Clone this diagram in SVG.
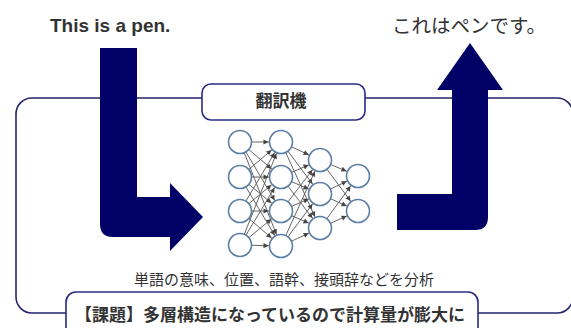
<svg xmlns="http://www.w3.org/2000/svg" width="571" height="328" viewBox="0 0 571 328">
<style>
.frame{fill:none;stroke:#23236f;stroke-width:1.6}
.box{fill:#fff;stroke:#2a2a84;stroke-width:1.6}
.arrow{fill:#000066}
.jp{font-family:"Noto Sans CJK JP","Noto Sans",sans-serif;fill:#333}
.b{font-weight:bold}
.edge{stroke:#555;stroke-width:0.9;fill:none;marker-end:url(#ah)}
.neuron{fill:#fff;stroke:#5a7ea6;stroke-width:1.6}
</style>
<defs>
<marker id="ah" markerUnits="userSpaceOnUse" viewBox="-20 -10 40 20" markerWidth="40" markerHeight="20" refX="12.5" refY="0" orient="auto" overflow="visible">
<path d="M0,0 L-5,-2.6 L-5,2.6 Z" fill="#444"/>
</marker>
</defs>

<g id="frame-connector">
<rect class="frame" x="16" y="98" width="557" height="215" rx="16"/>
</g>

<g id="title-box">
<rect class="box" x="202" y="84" width="163" height="36" rx="9"/>
<text class="jp b" x="281" y="107" font-size="17" text-anchor="middle">翻訳機</text>
</g>

<g id="input-arrow">
<path class="arrow" d="M100,48 H137 V197 H170 V183 L203,217 L170,251 V237 H113 Q100,237 100,224 Z"/>
</g>

<g id="output-arrow">
<path class="arrow" d="M397,194 H452 V90 H437 L470,43 L503,90 H488 V217 Q488,230 475,230 H397 Z"/>
</g>

<g id="input-text">
<text x="50" y="32" font-family="'Liberation Sans',Arial,sans-serif" font-weight="bold" font-size="19" fill="#333">This is a pen.</text>
</g>

<g id="output-text">
<text class="jp" x="392" y="33" font-size="19.5">これはペンです。</text>
</g>

<g id="network-connectors">
<line class="edge" x1="240" y1="142" x2="281" y2="142"/>
<line class="edge" x1="240" y1="142" x2="281" y2="177"/>
<line class="edge" x1="240" y1="142" x2="281" y2="211"/>
<line class="edge" x1="240" y1="142" x2="281" y2="246"/>
<line class="edge" x1="240" y1="177" x2="281" y2="142"/>
<line class="edge" x1="240" y1="177" x2="281" y2="177"/>
<line class="edge" x1="240" y1="177" x2="281" y2="211"/>
<line class="edge" x1="240" y1="177" x2="281" y2="246"/>
<line class="edge" x1="240" y1="211" x2="281" y2="142"/>
<line class="edge" x1="240" y1="211" x2="281" y2="177"/>
<line class="edge" x1="240" y1="211" x2="281" y2="211"/>
<line class="edge" x1="240" y1="211" x2="281" y2="246"/>
<line class="edge" x1="240" y1="245" x2="281" y2="142"/>
<line class="edge" x1="240" y1="245" x2="281" y2="177"/>
<line class="edge" x1="240" y1="245" x2="281" y2="211"/>
<line class="edge" x1="240" y1="245" x2="281" y2="246"/>
<line class="edge" x1="281" y1="142" x2="320" y2="160"/>
<line class="edge" x1="281" y1="142" x2="320" y2="194"/>
<line class="edge" x1="281" y1="142" x2="320" y2="228"/>
<line class="edge" x1="281" y1="177" x2="320" y2="160"/>
<line class="edge" x1="281" y1="177" x2="320" y2="194"/>
<line class="edge" x1="281" y1="177" x2="320" y2="228"/>
<line class="edge" x1="281" y1="211" x2="320" y2="160"/>
<line class="edge" x1="281" y1="211" x2="320" y2="194"/>
<line class="edge" x1="281" y1="211" x2="320" y2="228"/>
<line class="edge" x1="281" y1="246" x2="320" y2="160"/>
<line class="edge" x1="281" y1="246" x2="320" y2="194"/>
<line class="edge" x1="281" y1="246" x2="320" y2="228"/>
<line class="edge" x1="320" y1="160" x2="358" y2="176"/>
<line class="edge" x1="320" y1="160" x2="358" y2="211"/>
<line class="edge" x1="320" y1="194" x2="358" y2="176"/>
<line class="edge" x1="320" y1="194" x2="358" y2="211"/>
<line class="edge" x1="320" y1="228" x2="358" y2="176"/>
<line class="edge" x1="320" y1="228" x2="358" y2="211"/>
</g>

<g id="network-nodes">
<circle class="neuron" cx="240" cy="142" r="11.5"/>
<circle class="neuron" cx="240" cy="177" r="11.5"/>
<circle class="neuron" cx="240" cy="211" r="11.5"/>
<circle class="neuron" cx="240" cy="245" r="11.5"/>
<circle class="neuron" cx="281" cy="142" r="11.5"/>
<circle class="neuron" cx="281" cy="177" r="11.5"/>
<circle class="neuron" cx="281" cy="211" r="11.5"/>
<circle class="neuron" cx="281" cy="246" r="11.5"/>
<circle class="neuron" cx="320" cy="160" r="11.5"/>
<circle class="neuron" cx="320" cy="194" r="11.5"/>
<circle class="neuron" cx="320" cy="228" r="11.5"/>
<circle class="neuron" cx="358" cy="176" r="11.5"/>
<circle class="neuron" cx="358" cy="211" r="11.5"/>
</g>

<g id="analysis-text">
<text class="jp" x="284" y="285" font-size="15" text-anchor="middle">単語の意味、位置、語幹、接頭辞などを分析</text>
</g>

<g id="issue-box">
<rect class="box" x="66" y="292" width="412" height="48" rx="10"/>
<text class="jp b" x="270" y="321" font-size="17" text-anchor="middle">【課題】多層構造になっているので計算量が膨大に</text>
</g>
</svg>
